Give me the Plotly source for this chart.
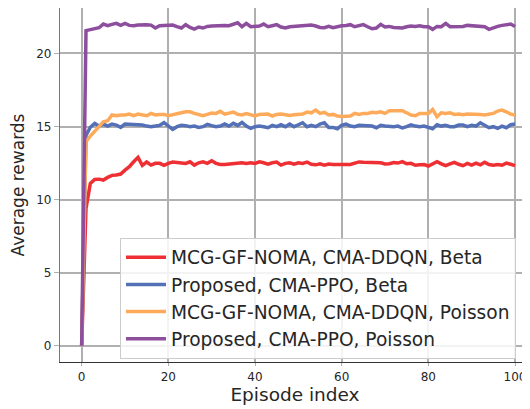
import plotly.graph_objects as go

episodes = list(range(101))

red_beta = [0.0, 9.4, 11.11, 11.38, 11.40, 11.34, 11.52, 11.66, 11.68, 11.75,
            12.02, 12.25, 12.59, 12.89, 12.34, 12.57, 12.36, 12.48, 12.48, 12.34,
            12.48, 12.57, 12.54, 12.48, 12.48, 12.59, 12.36, 12.52, 12.59, 12.48,
            12.66, 12.48, 12.41, 12.41, 12.43, 12.43, 12.48, 12.52, 12.48, 12.52,
            12.48, 12.59, 12.52, 12.43, 12.52, 12.57, 12.36, 12.48, 12.52, 12.43,
            12.52, 12.48, 12.57, 12.42, 12.38, 12.45, 12.36, 12.43, 12.40, 12.41,
            12.44, 12.41, 12.40, 12.50, 12.58, 12.56, 12.55, 12.52, 12.50, 12.52,
            12.44, 12.46, 12.54, 12.50, 12.60, 12.45, 12.48, 12.35, 12.38, 12.40,
            12.30, 12.45, 12.60, 12.45, 12.32, 12.44, 12.55, 12.42, 12.32, 12.48,
            12.36, 12.50, 12.38, 12.55, 12.40, 12.36, 12.40, 12.35, 12.50, 12.42,
            12.33]

blue_beta = [0.0, 14.4, 14.95, 15.21, 15.03, 15.17, 15.03, 15.17, 15.10, 14.94,
             15.17, 15.15, 15.17, 15.10, 15.10, 15.03, 14.99, 15.03, 15.08, 15.26,
             14.99, 14.80, 14.99, 15.08, 15.06, 14.99, 15.03, 14.94, 14.99, 15.15,
             15.06, 14.99, 15.03, 15.17, 15.03, 15.22, 15.08, 15.28, 15.03, 14.87,
             14.99, 15.03, 14.99, 14.92, 15.08, 14.99, 15.12, 14.99, 15.17, 14.99,
             15.12, 15.26, 14.99, 15.08, 14.99, 15.17, 15.26, 14.94, 14.94, 14.85,
             15.08, 15.17, 15.03, 14.99, 15.08, 15.06, 14.99, 15.03, 14.92, 15.08,
             15.03, 14.99, 14.99, 15.03, 14.90, 14.99, 15.12, 15.03, 14.99, 15.03,
             14.94, 14.85, 15.12, 15.03, 15.08, 14.99, 14.99, 15.10, 15.10, 14.99,
             15.08, 15.03, 15.26, 15.10, 14.92, 14.99, 14.87, 15.03, 14.92, 15.12,
             15.17]

orange_poisson = [0.0, 13.96, 14.35, 14.64, 14.99, 15.33, 15.40, 15.79, 15.74, 15.79,
                  15.79, 15.85, 15.74, 15.85, 15.79, 15.74, 15.90, 15.79, 15.83, 15.83,
                  15.74, 15.79, 15.90, 15.94, 16.01, 16.01, 15.90, 15.79, 15.74, 15.83,
                  15.92, 15.90, 16.04, 15.85, 15.90, 15.99, 15.83, 15.79, 15.88, 15.79,
                  15.72, 15.83, 15.85, 15.85, 15.72, 15.83, 15.85, 15.81, 15.76, 15.81,
                  15.85, 15.85, 15.99, 15.94, 16.13, 15.90, 15.97, 15.79, 15.83, 15.72,
                  15.69, 15.69, 15.72, 15.90, 15.83, 15.90, 15.90, 15.97, 15.94, 16.01,
                  15.90, 16.08, 16.06, 16.10, 16.08, 15.94, 15.79, 15.74, 15.90, 15.90,
                  15.90, 16.17, 15.67, 15.94, 15.90, 15.94, 15.83, 15.85, 15.81, 15.85,
                  15.85, 15.81, 15.83, 15.79, 15.85, 15.90, 16.06, 16.13, 16.01, 15.85,
                  15.79]

purple_poisson = [0.0, 21.56, 21.63, 21.70, 21.76, 22.01, 21.90, 21.99, 22.06, 21.92,
                  22.06, 21.92, 21.90, 21.94, 21.97, 21.97, 21.94, 21.74, 21.90, 21.90,
                  21.90, 21.94, 21.83, 21.74, 21.97, 21.78, 21.67, 21.81, 21.74, 21.85,
                  21.88, 21.90, 21.94, 21.92, 21.90, 21.97, 22.10, 21.83, 22.06, 21.83,
                  21.88, 21.88, 22.01, 21.83, 21.90, 21.97, 21.81, 21.74, 21.83, 21.85,
                  21.83, 21.88, 21.90, 21.94, 21.88, 21.78, 21.76, 21.85, 21.76, 21.85,
                  21.90, 21.92, 21.97, 21.83, 21.90, 21.97, 21.83, 21.69, 21.74, 21.99,
                  21.81, 21.85, 21.78, 21.78, 21.74, 21.83, 21.88, 21.85, 21.90, 21.83,
                  21.83, 21.65, 21.85, 21.83, 22.06, 21.83, 21.85, 21.81, 21.85, 21.92,
                  21.90, 21.92, 21.88, 21.83, 21.65, 21.78, 21.85, 21.92, 21.97, 22.01,
                  21.85]

series_names = [
    "MCG-GF-NOMA, CMA-DDQN, Beta",
    "Proposed, CMA-PPO, Beta",
    "MCG-GF-NOMA, CMA-DDQN, Poisson",
    "Proposed, CMA-PPO, Poisson",
]
series_values = [red_beta, blue_beta, orange_poisson, purple_poisson]
series_colors = ["#ee2f33", "#5470b6", "#fdab5b", "#8d4f9d"]

y_ticks = [0, 5, 10, 15, 20]
x_ticks = [0, 20, 40, 60, 80, 100]

font_family = "DejaVu Sans"
text_color = "#262626"

fig = go.Figure()
for name, vals, col in zip(series_names, series_values, series_colors):
    fig.add_trace(go.Scatter(
        x=episodes, y=vals, mode="lines", name=name,
        line=dict(color=col, width=3.5),
    ))

fig.update_layout(
    width=522, height=401,
    margin=dict(l=52, r=0, t=0, b=47),
    paper_bgcolor="white", plot_bgcolor="white",
    font=dict(family=font_family, color=text_color),
    showlegend=True,
    legend=dict(
        x=0.1277, y=0.0095, xanchor="left", yanchor="bottom",
        bgcolor="rgba(255,255,255,0.85)", bordercolor="#cccccc", borderwidth=1,
        font=dict(size=18.6, family=font_family, color=text_color),
        itemwidth=40,
    ),
)

fig.update_xaxes(
    range=[-5, 103.46], tickvals=x_ticks, automargin=False,
    showgrid=True, gridcolor="#b0b0b0", gridwidth=1.5,
    zeroline=False, showline=True, linecolor="#333333", linewidth=1.2, mirror=True,
    ticks="outside", ticklen=3, tickcolor="#b0b0b0",
    tickfont=dict(size=12, color=text_color),
    title=dict(text="Episode index", font=dict(size=18.5, color=text_color), standoff=5),
)
fig.update_yaxes(
    range=[-1.11, 23.11], tickvals=y_ticks, automargin=False,
    showgrid=True, gridcolor="#b0b0b0", gridwidth=1.5,
    zeroline=False, showline=True, linecolor="#777777", linewidth=1.2,
    ticks="outside", ticklen=5, tickcolor="#b0b0b0",
    tickfont=dict(size=12, color=text_color),
    title=dict(text="Average rewards", font=dict(size=17, color=text_color), standoff=8),
)

fig.write_html("out.html")
